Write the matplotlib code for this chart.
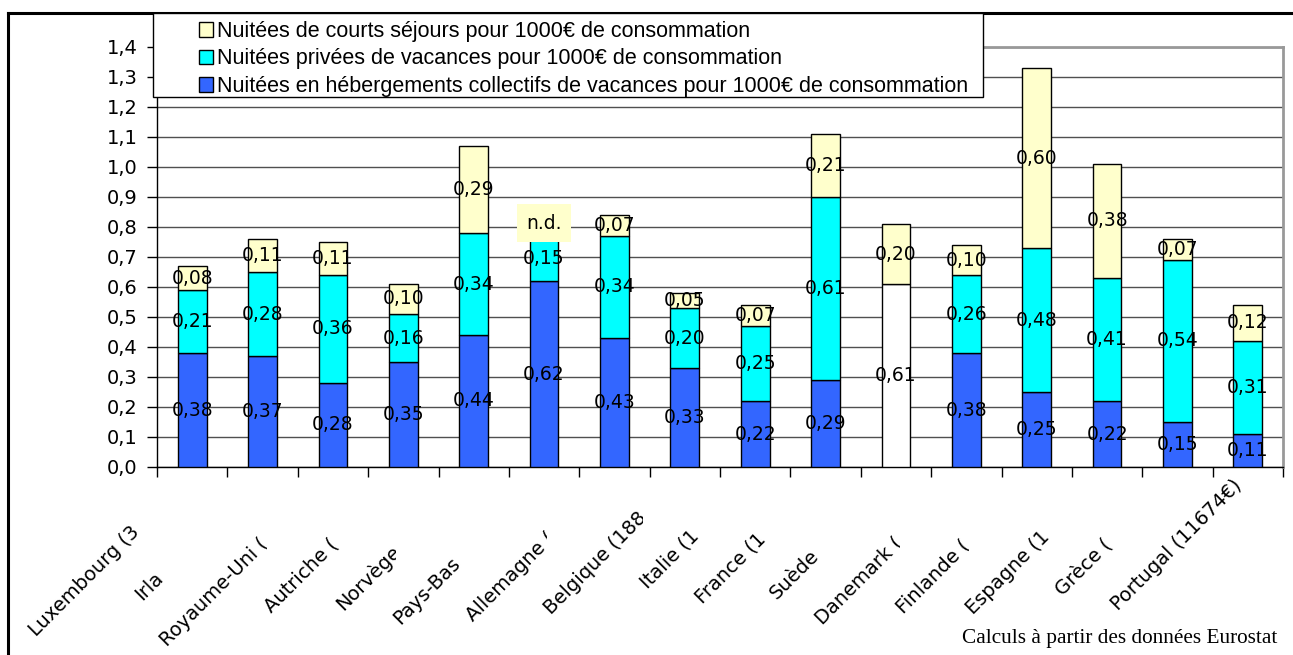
import numpy as np
import matplotlib
matplotlib.use("Agg")
import matplotlib.pyplot as plt
import matplotlib.transforms as mtransforms
from matplotlib.patches import Patch, Rectangle
from matplotlib.ticker import FuncFormatter, MultipleLocator

# ----------------------------------------------------------------------------------------------------------------------
# donnees
# ----------------------------------------------------------------------------------------------------------------------
pays = ["Luxembourg (3", "Irla", "Royaume-Uni (", "Autriche (", "Norvège", "Pays-Bas", "Allemagne (",
        "Belgique (188", "Italie (1", "France (1", "Suède", "Danemark (", "Finlande (", "Espagne (1",
        "Grèce (", "Portugal (11674€)"]
nan = np.nan
collectif = [0.38, 0.37, 0.28, 0.35, 0.44, 0.62, 0.43, 0.33, 0.22, 0.29, nan, 0.38, 0.25, 0.22, 0.15, 0.11]
sans_detail = [nan, nan, nan, nan, nan, nan, nan, nan, nan, nan, 0.61, nan, nan, nan, nan, nan]
privees = [0.21, 0.28, 0.36, 0.16, 0.34, 0.15, 0.34, 0.20, 0.25, 0.61, nan, 0.26, 0.48, 0.41, 0.54, 0.31]
courts = [0.08, 0.11, 0.11, 0.10, 0.29, nan, 0.07, 0.05, 0.07, 0.21, 0.20, 0.10, 0.60, 0.38, 0.07, 0.12]
# longueur (px) des libelles complets, qui se terminent sous chaque barre
longueur_libelle = [163, 127, 173, 139, 137, 151, 148, 141, 115, 130, 126, 151, 140, 141, 122, 137]

legendes = ["Nuitées de courts séjours pour 1000€ de consommation",
            "Nuitées privées de vacances pour 1000€ de consommation",
            "Nuitées en hébergements collectifs de vacances pour 1000€ de consommation"]
source = "Calculs à partir des données Eurostat"

W, H = 1293, 655
c_collectif = "#3366FF"
c_privees = "#00FFFF"
c_courts = "#FFFFCC"
fs = 13.5

fig = plt.figure(figsize=(W / 100, H / 100), dpi=100)
ax = fig.add_axes([157 / W, 1 - 467 / H, (1283 - 157) / W, (467 - 47) / H])

x = np.arange(len(pays))
width = 0.41
col = np.array(collectif)
sd = np.array(sans_detail)
pr = np.array(privees)
co = np.array(courts)


def stack(values, bottom, color):
    ok = ~np.isnan(values)
    ax.bar(x[ok], values[ok], width, bottom=bottom[ok], color=color, edgecolor="black", linewidth=1, zorder=3)
    for xi, v, b in zip(x[ok], values[ok], bottom[ok]):
        ax.text(xi, b + v / 2, f"{v:.2f}".replace(".", ","), ha="center", va="center", fontsize=fs, zorder=4)


base = np.zeros(len(x))
stack(col, base, c_collectif)
stack(sd, base, "white")
base2 = base + np.nan_to_num(col) + np.nan_to_num(sd)
stack(pr, base2, c_privees)
base3 = base2 + np.nan_to_num(pr)
stack(co, base3, c_courts)

# n.d. pour les courts sejours manquants
for xi in x[np.isnan(co)]:
    ax.text(xi, base3[xi] + 0.043, "n.d.", ha="center", va="center", fontsize=fs, zorder=5,
            bbox=dict(boxstyle="square,pad=0.5", fc=c_courts, ec="none"))

ax.set_xlim(-0.5, len(x) - 0.5)
ax.set_ylim(0, 1.4)
ax.yaxis.set_major_locator(MultipleLocator(0.1))
ax.yaxis.set_major_formatter(FuncFormatter(lambda v, p: f"{v:.1f}".replace(".", ",")))
ax.set_xticks(np.arange(-0.5, len(x), 1))
ax.set_xticklabels([])
ax.tick_params(axis="both", direction="out", length=7, width=1, color="black", labelsize=14)
ax.tick_params(axis="y", pad=7)
ax.grid(axis="y", color="#505050", linewidth=1, zorder=0)
ax.set_axisbelow(True)
for s in ["left", "bottom"]:
    ax.spines[s].set_color("black")
    ax.spines[s].set_linewidth(1)
for s in ["top", "right"]:
    ax.spines[s].set_color("#999999")
    ax.spines[s].set_linewidth(2)

# libelles des pays (tronques comme sur l'original)
blend = mtransforms.blended_transform_factory(ax.transData, ax.transAxes)
starts = []
for i, s in enumerate(longueur_libelle):
    cx = ax.transData.transform((x[i], 0))[0]
    starts.append(cx + 7 - s)
for i, (lab, s) in enumerate(zip(pays, longueur_libelle)):
    tr = mtransforms.offset_copy(blend, fig=fig, x=7 - s, y=-(7 + s), units="dots")
    t = ax.text(x[i], 0, lab, transform=tr, rotation=45, rotation_mode="anchor", ha="left", va="baseline",
                fontsize=14, clip_on=False)
    if i + 1 < len(pays):
        t.set_clip_box(mtransforms.Bbox([[0, 0], [starts[i + 1] - 4, H]]))
        t.set_clip_on(True)

# cadre exterieur
fig.add_artist(plt.Line2D([8 / W, 8 / W], [0, 1 - 13 / H], color="black", linewidth=2.2))
fig.add_artist(plt.Line2D([8 / W, 1], [1 - 13 / H, 1 - 13 / H], color="black", linewidth=2.2))

# legende
fig.add_artist(Rectangle((153 / W, 1 - 97 / H), (983 - 153) / W, (97 - 13) / H, transform=fig.transFigure,
                         facecolor="white", edgecolor="black", linewidth=1, zorder=5))
handles = [Patch(facecolor=c_courts, edgecolor="black"), Patch(facecolor=c_privees, edgecolor="black"),
           Patch(facecolor=c_collectif, edgecolor="black")]
leg = fig.legend(handles, legendes, loc="upper left", bbox_to_anchor=(199 / W, 1 - 21 / H), frameon=False,
                 borderpad=0, borderaxespad=0, handlelength=0.65, handleheight=0.65, handletextpad=0.2,
                 labelspacing=0.3, prop={"family": "Liberation Sans", "size": 15.5})
leg.set_zorder(6)

fig.text(1277 / W, 1 - 643 / H, source, ha="right", va="baseline", family="Liberation Serif", fontsize=15.3)

plt.savefig("out.png", dpi=100)
